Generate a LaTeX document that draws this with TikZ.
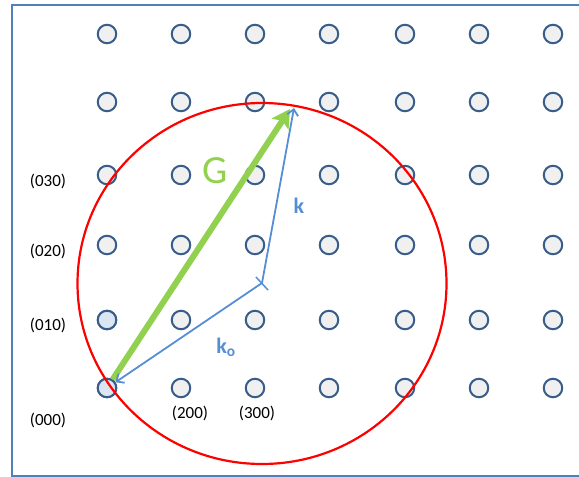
\documentclass[tikz,border=0pt]{standalone}
\usepackage{fontspec}
\setmainfont{Carlito}
\usepackage{tikz}
\usetikzlibrary{arrows.meta,positioning}

\definecolor{dotline}{HTML}{385D8A}
\definecolor{dotfill}{HTML}{F0F0F0}
\definecolor{dotblue}{HTML}{DCE6F2}
\definecolor{kblue}{HTML}{558ED5}
\definecolor{ggreen}{HTML}{92D050}
\definecolor{frameblue}{HTML}{4F81BD}

\begin{document}
\begin{tikzpicture}[
  x=1pt,y=-1pt,
  dot/.style={circle,draw=dotline,fill=dotfill,line width=2pt,minimum size=18.5pt,inner sep=0pt},
  idx/.style={font=\fontsize{17}{19}\selectfont,inner sep=0pt},
  karr/.style={kblue,line width=1.8pt,-{Straight Barb[length=6pt,width=11pt]}},
  garr/.style={ggreen,line width=6pt,-{Stealth[length=18pt,width=20pt,inset=4pt]}}
]
\useasboundingbox (0,0) rectangle (579,477);
\draw[frameblue,line width=2pt] (600,4.5) -- (12,4.5) -- (12,476) -- (600,476);

% lattice points
\foreach \x [count=\i] in {107,181,255,329,405,479,553}
  \foreach \y [count=\j] in {34,102,175,245,320,388}
    \node[dot] (p-\i-\j) at (\x,\y) {};
\node[dot,fill=dotblue] at (p-1-5) {};
\node[dot,fill=dotblue] (o000) at (p-1-6) {};

% indices
\node[idx] (l030) at (48,181) {(030)};
\node[idx] (l020) at (48,251) {(020)};
\node[idx] (l010) at (48,325) {(010)};
\node[idx] (l000) at (48,420) {(000)};
\node[idx] (l200) at (190,413) {(200)};
\node[idx] (l300) at (257,413) {(300)};

% Ewald sphere
\coordinate (c) at (262,283);
\draw[red,line width=2.2pt] (262,283.5) ellipse [x radius=184.5,y radius=180.5];

\coordinate (gtip) at (290,109);
\coordinate (ktip) at (294,108);
\coordinate (t1) at (256,277);
\coordinate (t2) at (268,290);

\draw[garr] (o000) -- (gtip);
\draw[karr] (c) -- (ktip);
\draw[karr] (c) -- (o000);
\draw[kblue,line width=1.5pt] (t1) -- (t2);

\node[ggreen,font=\fontsize{40}{42}\selectfont] (G) at (215,171) {G};
\node[kblue,font=\fontsize{22}{24}\selectfont\bfseries] (k) at (299,206) {k};
\node[kblue,font=\fontsize{22}{24}\selectfont\bfseries] (k0) at (226,347) {k$_\mathbf{o}$};
\end{tikzpicture}
\end{document}
